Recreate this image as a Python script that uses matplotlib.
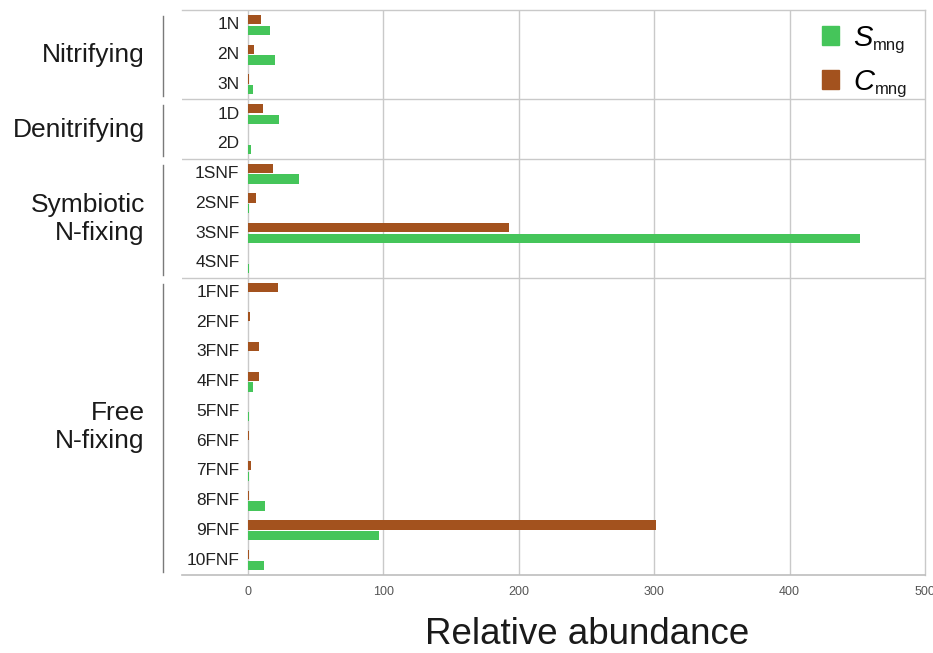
import matplotlib
matplotlib.use("Agg")
import matplotlib.pyplot as plt
import matplotlib.transforms as mtransforms
from matplotlib.patches import Patch
import numpy as np

plt.rcParams['font.family'] = ['Liberation Sans', 'DejaVu Sans']

categories = ["1N", "2N", "3N", "1D", "2D", "1SNF", "2SNF", "3SNF", "4SNF",
              "1FNF", "2FNF", "3FNF", "4FNF", "5FNF", "6FNF", "7FNF", "8FNF", "9FNF", "10FNF"]
s_mng = [16.6, 20, 4, 22.8, 2.2, 37.9, 1, 452, 1,
         0, 0, 0, 3.5, 1, 0, 1, 12.4, 97, 11.7]
c_mng = [9.7, 4.7, 1, 11.4, 0, 18.3, 6.2, 192.6, 0,
         22, 1.7, 8.4, 8.4, 0, 1, 2.7, 1, 301.3, 0.8]
groups = ["Nitrifying", "Denitrifying", "Symbiotic\nN-fixing", "Free\nN-fixing"]
group_sizes = [3, 2, 4, 10]
xticks = [0, 100, 200, 300, 400, 500]
series_main = ["S", "C"]
series_sub = ["mng", "mng"]

green = '#45c55a'
brown = '#a3521e'
grid_c = '#c9c9c9'

fig = plt.figure(figsize=(9.33, 6.53), dpi=100)
ax = fig.add_axes([182/933, 1 - 575/653, (925 - 182)/933, (575 - 10)/653])

y = np.arange(len(categories))
h = 0.31
ax.barh(y - 0.18, c_mng, height=h, color=brown, zorder=3)
ax.barh(y + 0.18, s_mng, height=h, color=green, zorder=3)

ax.set_ylim(len(categories) - 0.5, -0.5)
ax.set_xlim(-48.6, 500)

ax.set_xticks(xticks)
ax.set_xticklabels([str(t) for t in xticks], color='#555555', fontsize=9)
ax.set_yticks(y)
ax.set_yticklabels(categories, fontsize=12.5, color='#222222')
ax.tick_params(axis='both', length=0)
ax.tick_params(axis='y', pad=6)
ax.tick_params(axis='x', pad=8)

for t in xticks[:-1]:
    ax.axvline(t, color=grid_c, lw=1, zorder=1)

ax.spines['left'].set_visible(False)
for s in ['top', 'right']:
    ax.spines[s].set_color(grid_c)
    ax.spines[s].set_linewidth(1)
ax.spines['bottom'].set_color('#bdbdbd')
ax.spines['bottom'].set_linewidth(1.2)

# group separators, brackets and labels
trans = mtransforms.blended_transform_factory(ax.transAxes, ax.transData)
start = 0
for gi, (g, n) in enumerate(zip(groups, group_sizes)):
    end = start + n
    if end < len(categories):
        ax.axhline(end - 0.5, color=grid_c, lw=1, zorder=1)
    ax.plot([-0.0256, -0.0256], [start - 0.3, end - 0.6], transform=trans,
            color='#7a7a7a', lw=1, clip_on=False)
    ax.text(-0.05, (start + end - 1) / 2 + 0.02, g, transform=trans,
            ha='right', va='center', fontsize=19, color='#1a1a1a',
            linespacing=1.2)
    start = end

handles = [Patch(color=green), Patch(color=brown)]
leg = ax.legend(handles, series_main, loc='upper left', frameon=False,
                prop={'style': 'italic', 'size': 21},
                handlelength=0.58, handleheight=0.58, handletextpad=0.5,
                labelspacing=0.55, bbox_to_anchor=(0.826, 1.022))

fig.canvas.draw()

# shift y tick labels so they sit just left of the zero line
x0_px = ax.transData.transform((0, 0))[0] - ax.transAxes.transform((0, 0))[0]
shift = mtransforms.ScaledTranslation(x0_px / fig.dpi, 1.5 / fig.dpi, fig.dpi_scale_trans)
for lab in ax.get_yticklabels():
    lab.set_transform(lab.get_transform() + shift)

# subscripts after legend labels
W, H = fig.bbox.width, fig.bbox.height
for txt, sub in zip(leg.get_texts(), series_sub):
    bb = txt.get_window_extent()
    fig.text((bb.x1 + 0.5) / W, (bb.y0 + 2) / H, sub, ha='left', va='baseline',
             fontsize=12, color='#1a1a1a')

fig.text(587/933, 1 - 634/653, "Relative abundance", ha='center', va='center',
         fontsize=26.5, color='#1a1a1a')

fig.savefig("out.png", dpi=100)
